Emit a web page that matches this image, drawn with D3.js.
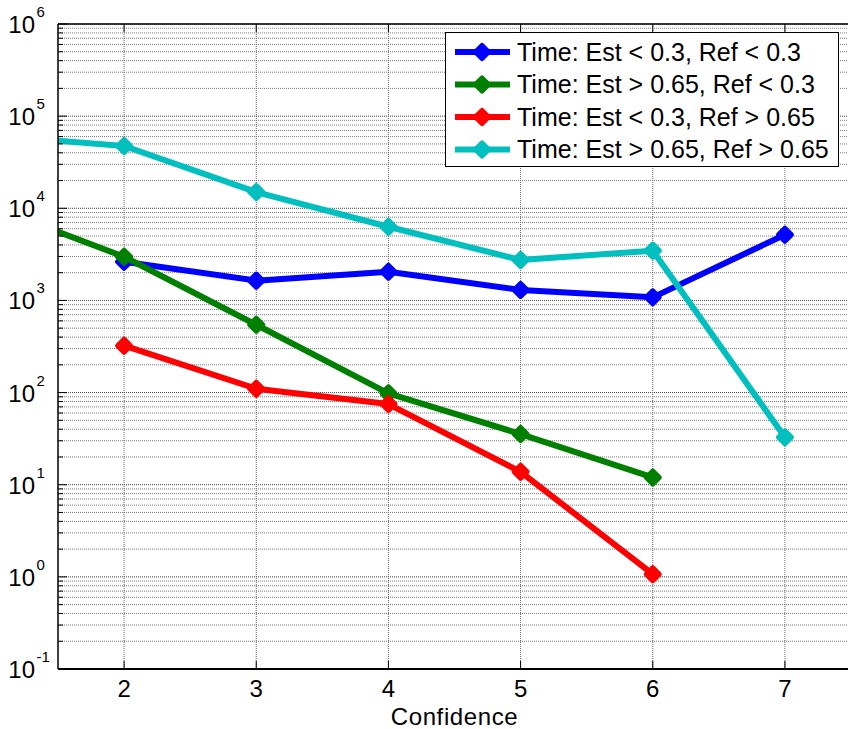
<!DOCTYPE html>
<html>
<head>
<meta charset="utf-8">
<script src="https://cdn.jsdelivr.net/npm/d3@7"></script>
<style>
  body { margin: 0; background: #fff; }
  text { font-family: "Liberation Sans", Arial, sans-serif; fill: #000; }
</style>
</head>
<body>
<div id="chart"></div>
<script>
// Datos (null = sin punto)
const confidence = [1, 2, 3, 4, 5, 6, 7];
const estLowRefLow = [null, 2630, 1640, 2050, 1300, 1080, 5170];
const estHighRefLow = [10400, 2980, 545, 98, 35.5, 12, null];
const estLowRefHigh = [null, 323, 110, 75, 13.8, 1.07, null];
const estHighRefHigh = [62000, 47400, 15000, 6300, 2750, 3470, 32.7];

const seriesNames = [
    "Time: Est < 0.3, Ref < 0.3",
    "Time: Est > 0.65, Ref < 0.3",
    "Time: Est < 0.3, Ref > 0.65",
    "Time: Est > 0.65, Ref > 0.65"
];
const seriesColors = ["#0000ff", "#008000", "#ff0000", "#00bfbf"];
const xTicks = [2, 3, 4, 5, 6, 7];
const yExponents = [-1, 0, 1, 2, 3, 4, 5, 6];

const w = 848;
const h = 729;
const margin = ({ top: 24, right: -3, bottom: 60, left: 58 });

const svg = d3.select("#chart")
    .append("svg")
    .attr("width", w)
    .attr("height", h);

const xScale = d3.scaleLinear()
    .domain([1.5, 7.5])
    .range([margin.left, w - margin.right]);

const yScale = d3.scaleLog()
    .domain([0.1, 1e6])
    .range([h - margin.bottom, margin.top]);

const x0 = margin.left, x1 = w - margin.right;
const y0 = h - margin.bottom, y1 = margin.top;

svg.append("clipPath").attr("id", "plotClip")
    .append("rect")
    .attr("x", x0).attr("y", y1)
    .attr("width", x1 - x0).attr("height", y0 - y1);

// Rejilla
const grid = svg.append("g");
let minorVals = [];
for (let e = -1; e < 6; e++) {
    for (let k = 2; k <= 9; k++) minorVals.push(k * Math.pow(10, e));
}
grid.selectAll(".minor")
    .data(minorVals)
    .enter().append("line")
    .attr("x1", x0).attr("x2", x1)
    .attr("y1", d => yScale(d)).attr("y2", d => yScale(d))
    .attr("stroke", "#7a7a7a")
    .attr("stroke-width", 1)
    .attr("stroke-dasharray", "1,1");

grid.selectAll(".major")
    .data(yExponents)
    .enter().append("line")
    .attr("x1", x0).attr("x2", x1)
    .attr("y1", d => yScale(Math.pow(10, d))).attr("y2", d => yScale(Math.pow(10, d)))
    .attr("stroke", "#444")
    .attr("stroke-width", 1)
    .attr("stroke-dasharray", "1,1");

grid.selectAll(".vgrid")
    .data(xTicks)
    .enter().append("line")
    .attr("x1", d => xScale(d)).attr("x2", d => xScale(d))
    .attr("y1", y1).attr("y2", y0)
    .attr("stroke", "#666")
    .attr("stroke-width", 1)
    .attr("stroke-dasharray", "1,1");

// Series
const allSeries = [estLowRefLow, estHighRefLow, estLowRefHigh, estHighRefHigh];
const line = d3.line()
    .defined(d => d.v != null)
    .x(d => xScale(d.x))
    .y(d => yScale(d.v));

const diamond = "M0,-6.5L6.5,0L0,6.5L-6.5,0Z";

const plot = svg.append("g").attr("clip-path", "url(#plotClip)");
allSeries.forEach((vals, i) => {
    const pts = confidence.map((c, j) => ({ x: c, v: vals[j] }));
    plot.append("path")
        .datum(pts)
        .attr("d", line)
        .attr("fill", "none")
        .attr("stroke", seriesColors[i])
        .attr("stroke-width", 6)
        .attr("stroke-linejoin", "round");
    plot.selectAll(".m" + i)
        .data(pts.filter(d => d.v != null))
        .enter().append("path")
        .attr("d", diamond)
        .attr("transform", d => `translate(${xScale(d.x)},${yScale(d.v)})`)
        .attr("fill", seriesColors[i])
        .attr("stroke", seriesColors[i])
        .attr("stroke-width", 5)
        .attr("stroke-linejoin", "round");
});

// Ejes (caja estilo MATLAB)
const axes = svg.append("g");
axes.append("line").attr("x1", x0).attr("x2", w).attr("y1", y0).attr("y2", y0)
    .attr("stroke", "#000").attr("stroke-width", 2);
axes.append("line").attr("x1", x0).attr("x2", w).attr("y1", y1).attr("y2", y1)
    .attr("stroke", "#000").attr("stroke-width", 1.5);
axes.append("line").attr("x1", x0).attr("x2", x0).attr("y1", y1).attr("y2", y0)
    .attr("stroke", "#000").attr("stroke-width", 1.5);

// Ticks
axes.selectAll(".xtb").data(xTicks).enter().append("line")
    .attr("x1", d => xScale(d)).attr("x2", d => xScale(d))
    .attr("y1", y0).attr("y2", y0 - 8)
    .attr("stroke", "#000");
axes.selectAll(".xtt").data(xTicks).enter().append("line")
    .attr("x1", d => xScale(d)).attr("x2", d => xScale(d))
    .attr("y1", y1).attr("y2", y1 + 8)
    .attr("stroke", "#000");
axes.selectAll(".ytm").data(minorVals).enter().append("line")
    .attr("x1", x0).attr("x2", x0 + 5)
    .attr("y1", d => yScale(d)).attr("y2", d => yScale(d))
    .attr("stroke", "#000");
axes.selectAll(".ytM").data(yExponents).enter().append("line")
    .attr("x1", x0).attr("x2", x0 + 9)
    .attr("y1", d => yScale(Math.pow(10, d))).attr("y2", d => yScale(Math.pow(10, d)))
    .attr("stroke", "#000");

// Etiquetas
svg.selectAll(".xl").data(xTicks).enter().append("text")
    .attr("x", d => xScale(d))
    .attr("y", y0 + 28)
    .attr("text-anchor", "middle")
    .style("font-size", "24px")
    .text(d => d);

svg.selectAll(".yl").data(yExponents).enter().append("text")
    .attr("x", 35)
    .attr("y", d => yScale(Math.pow(10, d)) + 9)
    .attr("text-anchor", "end")
    .style("font-size", "24px")
    .text("10");

svg.selectAll(".ye").data(yExponents).enter().append("text")
    .attr("x", 36.5)
    .attr("y", d => yScale(Math.pow(10, d)) - 7)
    .style("font-size", "15px")
    .text(d => d);

svg.append("text")
    .attr("x", (x0 + x1) / 2)
    .attr("y", 725)
    .attr("text-anchor", "middle")
    .style("font-size", "24px")
    .style("letter-spacing", "0.6px")
    .text("Confidence");

// Leyenda
const legend = svg.append("g");
legend.append("rect")
    .attr("x", 445.5).attr("y", 32.5)
    .attr("width", 393).attr("height", 134)
    .attr("fill", "#fff")
    .attr("stroke", "#000")
    .attr("stroke-width", 1);

seriesNames.forEach((name, i) => {
    const ly = 52 + i * 32.5;
    legend.append("line")
        .attr("x1", 455).attr("x2", 510)
        .attr("y1", ly).attr("y2", ly)
        .attr("stroke", seriesColors[i])
        .attr("stroke-width", 6);
    legend.append("path")
        .attr("d", diamond)
        .attr("transform", `translate(482,${ly})`)
        .attr("fill", seriesColors[i])
        .attr("stroke", seriesColors[i])
        .attr("stroke-width", 5)
        .attr("stroke-linejoin", "round");
    legend.append("text")
        .attr("x", 517)
        .attr("y", ly + 8.5)
        .style("font-size", "25px")
        .text(name);
});
</script>
</body>
</html>
